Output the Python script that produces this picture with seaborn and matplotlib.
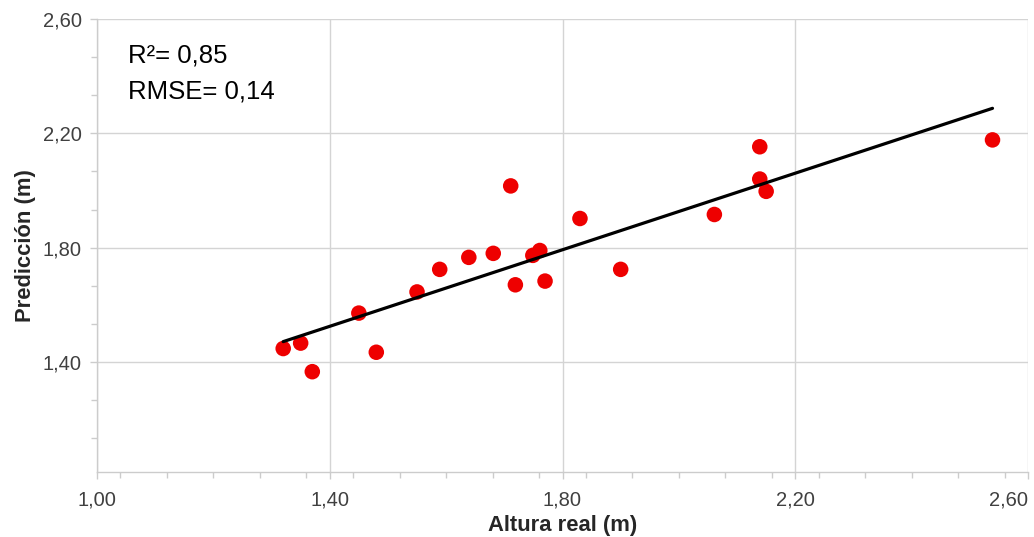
import numpy as np
import pandas as pd
import matplotlib
matplotlib.use("Agg")
import matplotlib.pyplot as plt
from matplotlib.ticker import MultipleLocator, FixedLocator, FuncFormatter
import seaborn as sns

# ---- data ----
altura_real = [1.320, 1.350, 1.370, 1.450, 1.480, 1.550, 1.589, 1.639, 1.681,
               1.711, 1.719, 1.749, 1.761, 1.770, 1.830, 1.900, 2.061, 2.139,
               2.139, 2.150, 2.539]
prediccion = [1.447, 1.466, 1.366, 1.571, 1.434, 1.645, 1.724, 1.766, 1.780,
              2.016, 1.670, 1.773, 1.790, 1.683, 1.902, 1.724, 1.916, 2.153,
              2.040, 1.997, 2.177]
x_ticks = [1.00, 1.40, 1.80, 2.20, 2.60]
y_ticks = [1.40, 1.80, 2.20, 2.60]
r2_text = "R²= 0,85"
rmse_text = "RMSE= 0,14"
x_label = "Altura real (m)"
y_label = "Predicción (m)"

df = pd.DataFrame({"x": altura_real, "y": prediccion})

sns.set_theme(style="white")
plt.rcParams["font.family"] = ["Liberation Sans", "DejaVu Sans"]

fig = plt.figure(figsize=(10.34, 5.37), dpi=100)
ax = fig.add_axes([97 / 1034, 1 - 472 / 537, (1028 - 97) / 1034, (472 - 19) / 537])

sns.regplot(data=df, x="x", y="y", ax=ax, ci=None, truncate=True,
            scatter_kws=dict(s=125, color="#ee0000", edgecolor="none", alpha=1, zorder=3),
            line_kws=dict(color="black", lw=2.3, zorder=4))

ax.set_xlim(1.0, 2.6)
ax.set_ylim(1.015, 2.6)
ax.xaxis.set_major_locator(FixedLocator(x_ticks))
ax.yaxis.set_major_locator(FixedLocator(y_ticks))
ax.xaxis.set_minor_locator(MultipleLocator(0.08))
ax.yaxis.set_minor_locator(FixedLocator(list(np.arange(1.0, 2.6, 0.4 / 3))))
fmt = FuncFormatter(lambda v, p: f"{v:.2f}".replace(".", ","))
ax.xaxis.set_major_formatter(fmt)
ax.yaxis.set_major_formatter(fmt)

ax.grid(True, which="major", color="#d4d4d4", lw=1.0, zorder=0)
ax.set_axisbelow(True)
for s in ["top", "right"]:
    ax.spines[s].set_visible(False)
for s in ["left", "bottom"]:
    ax.spines[s].set_color("#cccccc")
    ax.spines[s].set_linewidth(1.0)

ax.tick_params(axis="both", which="major", direction="out", length=5, width=1,
               color="#cccccc", labelsize=14.5, labelcolor="#404040", pad=6,
               bottom=True, left=True)
ax.tick_params(axis="x", which="major", pad=8)
ax.tick_params(axis="both", which="minor", direction="out", length=4, width=1,
               color="#cccccc", bottom=True, left=True)

fig.canvas.draw()
xlabels = ax.get_xticklabels()
xlabels[-1].set_horizontalalignment("right")

ax.set_xlabel(x_label, fontsize=15.8, fontweight="bold", color="#262626", labelpad=4)
ax.set_ylabel(y_label, fontsize=15.8, fontweight="bold", color="#262626", labelpad=5)

fig.text(128 / 1034, 1 - 63 / 537, r2_text, fontsize=18.5, color="black", va="baseline")
fig.text(128 / 1034, 1 - 99 / 537, rmse_text, fontsize=18.5, color="black", va="baseline")

fig.savefig("out.png", dpi=100)
